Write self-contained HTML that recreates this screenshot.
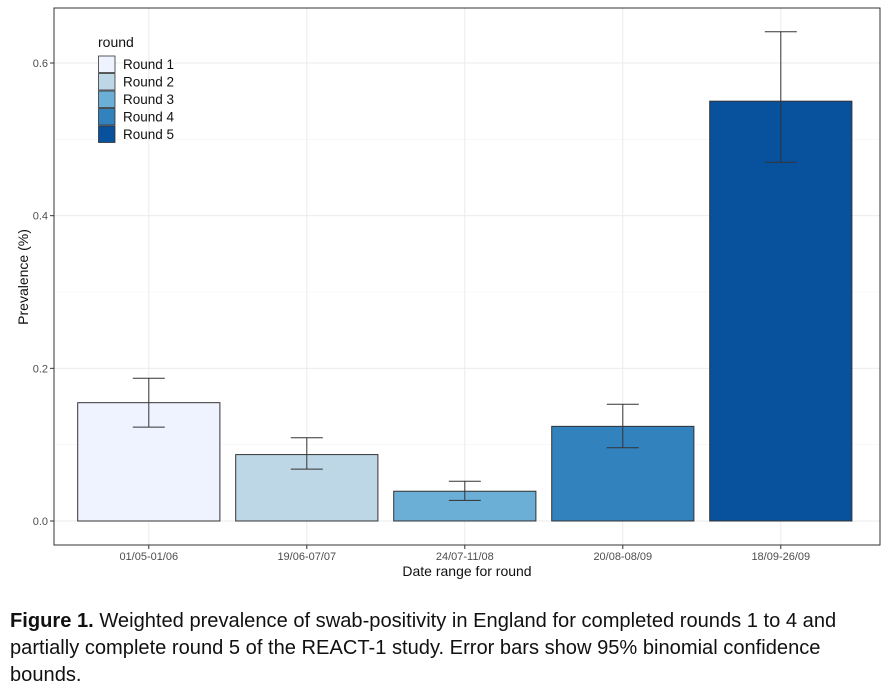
<!DOCTYPE html>
<html><head><meta charset="utf-8"><style>
body{margin:0;background:#fff;width:887px;height:690px;overflow:hidden;font-family:"Liberation Sans",Arial,sans-serif}
svg text{font-family:"Liberation Sans",Arial,sans-serif}
.cap{position:absolute;left:10px;top:608px;width:860px;font-size:20.1px;line-height:27px;color:#111}
</style></head><body>
<svg id="chart" width="887" height="600" style="position:absolute;left:0;top:0"></svg>
<div class="cap"><b>Figure 1.</b> Weighted prevalence of swab-positivity in England for completed rounds 1 to 4 and partially complete round 5 of the REACT-1 study. Error bars show 95% binomial confidence bounds.</div>
<script>
const categories=["01/05-01/06","19/06-07/07","24/07-11/08","20/08-08/09","18/09-26/09"];
const rounds=["Round 1","Round 2","Round 3","Round 4","Round 5"];
const values=[0.155,0.087,0.039,0.124,0.550];
const lower=[0.123,0.068,0.027,0.096,0.470];
const upper=[0.187,0.109,0.052,0.153,0.641];
const yTicks=[0,0.2,0.4,0.6];
const yTickLabels=["0.0","0.2","0.4","0.6"];
const colors=["#eff3ff","#bdd7e7","#6baed6","#3182bd","#08519c"];
const NS="http://www.w3.org/2000/svg";
const svg=document.getElementById('chart');
const L=54,R=880,T=8,B=545;
const y=v=>521-v*763.3;
const step=158;
const x=i=>L+step*(i+0.6);
const bw=step*0.9;
function mk(tag,a,p){const e=document.createElementNS(NS,tag);for(const k in a)e.setAttribute(k,a[k]);(p||svg).appendChild(e);return e;}
for(let i=0;i<yTicks.length;i++){
 const g=mk('line',{x1:L,x2:R,y1:y(yTicks[i]),y2:y(yTicks[i]),stroke:'#ebebeb','stroke-width':1});
 
 const m=mk('line',{x1:L,x2:R,y1:y(yTicks[i]+0.1),y2:y(yTicks[i]+0.1),stroke:'#f4f4f4','stroke-width':0.6});
 
}
categories.forEach((c,i)=>{const g=mk('line',{x1:x(i),x2:x(i),y1:T,y2:B,stroke:'#ebebeb','stroke-width':1});
 });
values.forEach((v,i)=>{
 const r=mk('rect',{x:x(i)-bw/2,y:y(v),width:bw,height:y(0)-y(v),fill:colors[i],stroke:'#333','stroke-width':1});
 
 const g=mk('g',{stroke:'#333','stroke-width':1});
 
 mk('line',{x1:x(i),x2:x(i),y1:y(upper[i]),y2:y(lower[i])},g);
 mk('line',{x1:x(i)-16,x2:x(i)+16,y1:y(upper[i]),y2:y(upper[i])},g);
 mk('line',{x1:x(i)-16,x2:x(i)+16,y1:y(lower[i]),y2:y(lower[i])},g);
});
const pb=mk('rect',{x:L,y:T,width:R-L,height:B-T,fill:'none',stroke:'#333','stroke-width':1});

yTicks.forEach((t,i)=>{
 mk('line',{x1:L-4,x2:L,y1:y(t),y2:y(t),stroke:'#333'});
 const tx=mk('text',{x:L-6,y:y(t)+4,'text-anchor':'end','font-size':11,fill:'#4d4d4d'});tx.textContent=yTickLabels[i];
 
});
categories.forEach((c,i)=>{
 mk('line',{x1:x(i),x2:x(i),y1:B,y2:B+4,stroke:'#333'});
 const tx=mk('text',{x:x(i),y:B+15,'text-anchor':'middle','font-size':11,fill:'#4d4d4d'});tx.textContent=c;
 
});
const xt=mk('text',{x:(L+R)/2,y:576,'text-anchor':'middle','font-size':14,fill:'#111'});xt.textContent='Date range for round';

const yt=mk('text',{x:0,y:0,transform:'translate(28,277) rotate(-90)','text-anchor':'middle','font-size':14,fill:'#111'});yt.textContent='Prevalence (%)';

const lg=mk('g',{});
const lt=mk('text',{x:98,y:47,'font-size':14,fill:'#111'},lg);lt.textContent='round';
rounds.forEach((r,i)=>{
 const g=mk('g',{},lg);
 mk('rect',{x:98.5,y:56+i*17.5,width:16.5,height:16.5,fill:colors[i],stroke:'#333','stroke-width':0.8},g);
 const t=mk('text',{x:123,y:69+i*17.5,'font-size':13.5,fill:'#111'},g);t.textContent=r;
});
</script>
</body></html>
